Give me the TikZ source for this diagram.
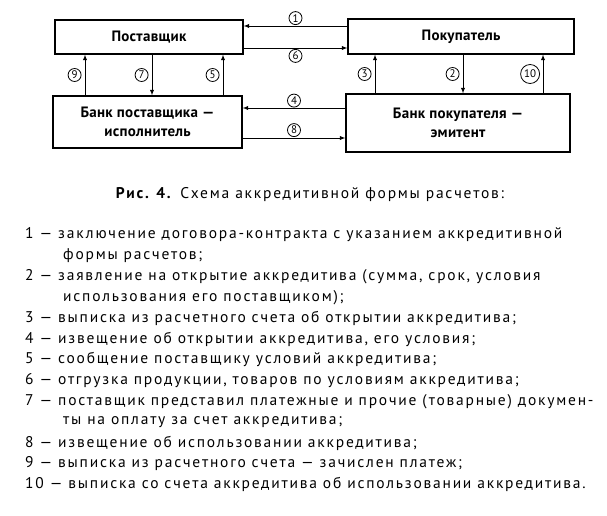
\documentclass[tikz,border=0pt]{standalone}
\usepackage{fontspec}
\setmainfont{PT Sans}
\newfontfamily\legendfont{PT Sans}[LetterSpace=11.5]
\newfontfamily\boxfont{PT Sans}[LetterSpace=2]
\usetikzlibrary{positioning,shapes,arrows}

\begin{document}
\begin{tikzpicture}[x=1pt, y=-1pt,
        box/.style = {shape=rectangle, draw, line width=1.3pt, align=center,
        inner sep=0pt, font=\boxfont\bfseries\fontsize{15}{19}\selectfont},
        num/.style = {circle, draw, line width=0.8pt, inner sep=0pt,
        minimum size=13pt, font=\fontsize{11}{11}\selectfont},
        flow/.style = {-latex, line width=0.9pt},
        legend/.style = {anchor=west, inner sep=0pt,
        font=\legendfont\fontsize{15.5}{17}\selectfont}]
    \useasboundingbox (0,0) rectangle (607,516);
    % boxes
    \node[box, minimum width=188pt, minimum height=34pt] (sup) at (149,37) {Поставщик};
    \node[box, minimum width=226pt, minimum height=35pt] (buy) at (461,36.5) {Покупатель};
    \node[box, minimum width=189pt, minimum height=52pt] (bsup) at (147.5,122)
        {Банк поставщика —\\исполнитель};
    \node[box, minimum width=224pt, minimum height=58pt] (bbuy) at (458,123)
        {Банк покупателя —\\эмитент};
    % where the connectors run
    \coordinate (x9) at (85,0);
    \coordinate (x7) at (152,0);
    \coordinate (x5) at (223,0);
    \coordinate (x3) at (375,0);
    \coordinate (x2) at (463,0);
    \coordinate (x10) at (543,0);
    \coordinate (y1) at (0,26);
    \coordinate (y6) at (0,48);
    \coordinate (y4) at (0,108);
    \coordinate (y8) at (0,138);
    % connectors
    \draw[flow] (buy.west |- y1) -- node[num, above=1pt] (n1) {1} (sup.east |- y1);
    \draw[flow] (sup.east |- y6) -- node[num, below=1pt] (n6) {6} (buy.west |- y6);
    \draw[flow] (bbuy.west |- y4) -- node[num, above=0.5pt] (n4) {4} (bsup.east |- y4);
    \draw[flow] (bsup.east |- y8) -- node[num, above=1pt] (n8) {8} (bbuy.west |- y8);
    \draw[flow] (bsup.north -| x9) -- node[num, left=3.5pt] (n9) {9} (sup.south -| x9);
    \draw[flow] (sup.south -| x7) -- node[num, left=3.5pt] (n7) {7} (bsup.north -| x7);
    \draw[flow] (bsup.north -| x5) -- node[num, left=3.5pt] (n5) {5} (sup.south -| x5);
    \draw[flow] (bbuy.north -| x3) -- node[num, left=3.5pt] (n3) {3} (buy.south -| x3);
    \draw[flow] (buy.south -| x2) -- node[num, left=3.5pt] (n2) {2} (bbuy.north -| x2);
    \draw[flow] (bbuy.north -| x10) -- node[num, left=3pt, minimum size=19pt] (n10) {10} (buy.south -| x10);
    % caption and legend
    \node[font=\legendfont\fontsize{15.5}{17}\selectfont] (cap) at (310,195)
        {\textbf{Рис. 4.} Схема аккредитивной формы расчетов:};
    \node[legend] (l1) at (25,235) {1 — заключение договора-контракта с указанием аккредитивной};
    \node[legend] (l1b) at (63,255.8) {формы расчетов;};
    \node[legend] (l2) at (25,276.6) {2 — заявление на открытие аккредитива (сумма, срок, условия};
    \node[legend] (l2b) at (63,297.4) {использования его поставщиком);};
    \node[legend] (l3) at (25,318.2) {3 — выписка из расчетного счета об открытии аккредитива;};
    \node[legend] (l4) at (25,339) {4 — извещение об открытии аккредитива, его условия;};
    \node[legend] (l5) at (25,359.8) {5 — сообщение поставщику условий аккредитива;};
    \node[legend] (l6) at (25,380.6) {6 — отгрузка продукции, товаров по условиям аккредитива;};
    \node[legend] (l7) at (25,401.4) {7 — поставщик представил платежные и прочие (товарные) докумен-};
    \node[legend] (l7b) at (63,422.2) {ты на оплату за счет аккредитива;};
    \node[legend] (l8) at (25,443) {8 — извещение об использовании аккредитива;};
    \node[legend] (l9) at (25,463.8) {9 — выписка из расчетного счета — зачислен платеж;};
    \node[legend] (l10) at (25,484.6) {10 — выписка со счета аккредитива об использовании аккредитива.};
\end{tikzpicture}
\end{document}
